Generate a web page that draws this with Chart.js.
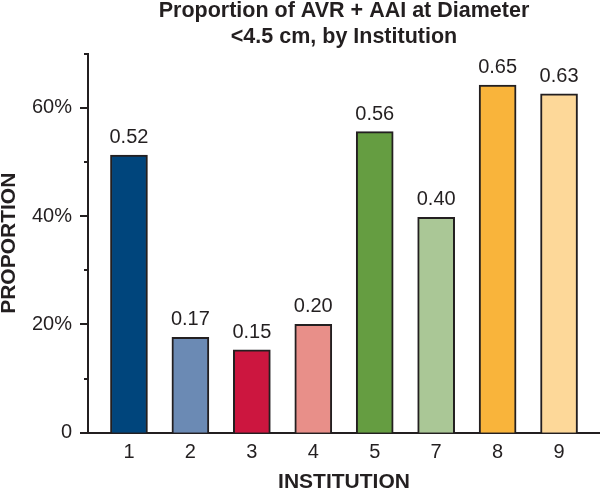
<!DOCTYPE html>
<html lang="en">
<head>
  <meta charset="UTF-8">
  <title>Proportion of AVR + AAI at Diameter &lt;4.5 cm, by Institution</title>
  <script src="https://cdn.jsdelivr.net/npm/chart.js"></script>
  <style>
    html, body { margin: 0; padding: 0; background: #fff; }
    #wrap { width: 600px; height: 491px; }
  </style>
</head>
<body>
  <div id="wrap"><canvas id="chart" width="600" height="491"></canvas></div>
  <script>
    // data
    const institutions = ['1', '2', '3', '4', '5', '7', '8', '9'];
    const proportions = [0.513, 0.176, 0.153, 0.200, 0.556, 0.398, 0.642, 0.626];
    const valueLabels = ['0.52', '0.17', '0.15', '0.20', '0.56', '0.40', '0.65', '0.63'];
    const barColors = ['#00457c', '#6b8ab4', '#cc163f', '#e88f89', '#659d41', '#aac796', '#f9b43b', '#fdd899'];

    const ink = '#231f20';
    const family = '"Liberation Sans", Arial, Helvetica, sans-serif';

    // small ticks on the y axis: long at labelled values, short between
    const yTickMarks = {
      id: 'yTickMarks',
      afterDraw(chart) {
        const y = chart.scales.y;
        const left = chart.chartArea.left;
        const ctx = chart.ctx;
        ctx.save();
        ctx.strokeStyle = ink;
        ctx.lineWidth = 2;
        y.ticks.forEach(t => {
          const py = Math.round(y.getPixelForValue(t.value));
          const len = Math.round(t.value * 100) % 20 === 0 ? 8 : 4;
          ctx.beginPath();
          ctx.moveTo(left - len, py);
          ctx.lineTo(left, py);
          ctx.stroke();
        });
        ctx.restore();
      }
    };

    // value text above each bar
    const barValues = {
      id: 'barValues',
      afterDatasetsDraw(chart) {
        const ctx = chart.ctx;
        const meta = chart.getDatasetMeta(0);
        ctx.save();
        ctx.fillStyle = ink;
        ctx.font = '20px ' + family;
        ctx.textAlign = 'center';
        ctx.textBaseline = 'alphabetic';
        meta.data.forEach((bar, i) => {
          ctx.fillText(valueLabels[i], bar.x, bar.y - 12);
        });
        ctx.restore();
      }
    };

    const ctx = document.getElementById('chart').getContext('2d');
    new Chart(ctx, {
      type: 'bar',
      data: {
        datasets: [{
          data: proportions.map((v, i) => ({ x: i, y: v })),
          backgroundColor: barColors,
          borderColor: ink,
          borderWidth: 2,
          borderSkipped: 'bottom',
          barThickness: 37
        }]
      },
      options: {
        responsive: false,
        animation: false,
        layout: { padding: 0 },
        plugins: {
          legend: { display: false },
          tooltip: { enabled: false },
          title: {
            display: true,
            fullSize: false,
            text: ['Proportion of AVR + AAI at Diameter', '<4.5 cm, by Institution'],
            color: ink,
            font: { family: family, size: 21.5, weight: 'bold', lineHeight: 1.21 },
            padding: { top: -2.3, bottom: 4 }
          }
        },
        scales: {
          x: {
            type: 'linear',
            offset: false,
            min: -2 / 3,
            max: 7 + 2 / 3,
            afterBuildTicks(scale) {
              scale.ticks = institutions.map((_, i) => ({ value: i }));
            },
            afterFit(scale) { scale.height = 58.3; },
            grid: { display: false, drawTicks: false },
            border: { display: true, color: ink, width: 2 },
            ticks: {
              color: ink,
              font: { family: family, size: 20 },
              padding: 8,
              maxRotation: 0,
              autoSkip: false,
              callback: v => institutions[v]
            },
            title: {
              display: true,
              text: 'INSTITUTION',
              color: ink,
              font: { family: family, size: 21, weight: 'bold', lineHeight: 1 },
              padding: { top: 0, bottom: -2 }
            }
          },
          y: {
            min: 0,
            max: 0.7,
            afterFit(scale) { scale.width = 88; },
            grid: { display: false, drawTicks: false },
            border: { display: true, color: ink, width: 2 },
            ticks: {
              stepSize: 0.1,
              color: ink,
              font: { family: family, size: 20 },
              padding: 16,
              callback: v => {
                const p = Math.round(v * 100);
                if (p % 20 !== 0) return '';
                return p === 0 ? '0' : p + '%';
              }
            },
            title: {
              display: true,
              text: 'PROPORTION',
              color: ink,
              font: { family: family, size: 21, weight: 'bold', lineHeight: 1 },
              padding: { top: -1, bottom: 0 }
            }
          }
        }
      },
      plugins: [yTickMarks, barValues]
    });
  </script>
</body>
</html>
